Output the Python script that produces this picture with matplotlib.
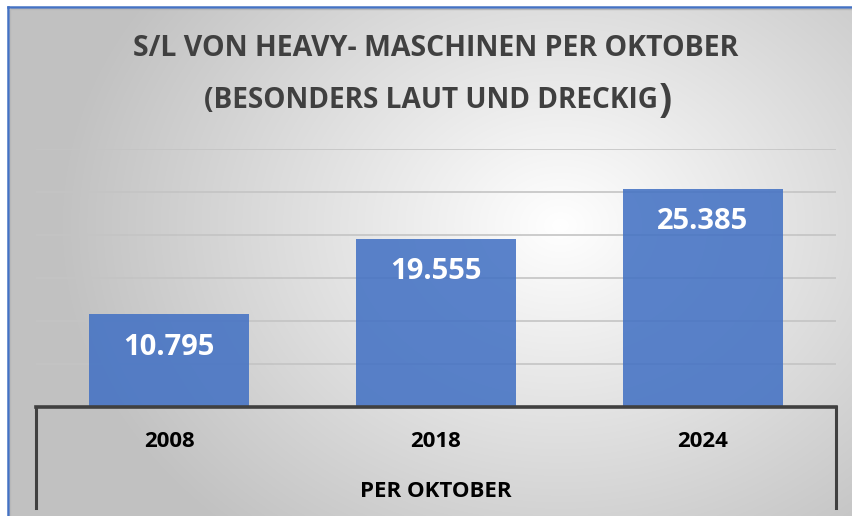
import numpy as np
import matplotlib
matplotlib.use("Agg")
import matplotlib.pyplot as plt
from matplotlib.lines import Line2D

categories = ["2008", "2018", "2024"]
values = [10795, 19555, 25385]
value_labels = ["10.795", "19.555", "25.385"]
title_line1 = "S/L VON HEAVY- MASCHINEN PER OKTOBER"
title_line2 = "(BESONDERS LAUT UND DRECKIG"
title_paren = ")"
x_title = "PER OKTOBER"

W, H = 852, 516
FONT = "Open Sans"
fig = plt.figure(figsize=(W / 100, H / 100), dpi=100)
fig.patch.set_facecolor("white")

# background radial gradient (pixel coordinates)
bg = fig.add_axes([0, 0, 1, 1])
bg.set_xlim(0, W)
bg.set_ylim(H, 0)
bg.axis("off")
yy, xx = np.mgrid[0:H, 0:W]
cx, cy = 560, 225
d = np.sqrt(((xx - cx) / 520.0) ** 2 + ((yy - cy) / 420.0) ** 2)
g = np.clip(1.0 - 0.25 * d, 0.76, 1.0)
img = np.dstack([g, g, g])
img[:7, :, :] = 1.0
img[:, :8, :] = 1.0
bg.imshow(img, extent=(0, W, H, 0), interpolation="bilinear", zorder=0)
bg.add_line(Line2D([8, 8], [7, H], color="#4472C4", lw=1.8, zorder=2))
bg.add_line(Line2D([8, W], [7, 7], color="#4472C4", lw=1.8, zorder=2))
bg.add_line(Line2D([9.5, W], [9, 9], color="#b8b8b8", lw=1.0, zorder=2))
bg.add_line(Line2D([10, 10], [9, H], color="#b8b8b8", lw=1.0, zorder=2))

# lower frame lines
bg.add_line(Line2D([36, 36], [407, 508], color="#404040", lw=2.2, zorder=3))
bg.add_line(Line2D([836, 836], [407, 508], color="#404040", lw=2.2, zorder=3))

# main axes
l, r, t, b = 36, 836, 149, 407
ax = fig.add_axes([l / W, 1 - b / H, (r - l) / W, (b - t) / H])
ax.patch.set_alpha(0)
x = np.arange(len(categories))
ax.set_xlim(-0.5, len(categories) - 0.5)
ax.set_ylim(0, 30000)
ax.set_yticks(np.arange(5000, 30001, 5000))
ax.yaxis.grid(True, color="#c4c4c4", lw=1.2, zorder=0)
ax.set_axisbelow(True)
for s in ["top", "right", "left"]:
    ax.spines[s].set_visible(False)
ax.spines["bottom"].set_color("#404040")
ax.spines["bottom"].set_linewidth(2.6)
ax.tick_params(left=False, labelleft=False, bottom=False)
ax.set_xticks(x)
ax.set_xticklabels(categories, fontsize=16, fontweight="bold", family=FONT, color="black")
ax.tick_params(axis="x", pad=14)

bars = ax.bar(x, values, width=0.6, color="#4472C4", alpha=0.88, zorder=2)
for rect, lab in zip(bars, value_labels):
    ax.annotate(lab, xy=(rect.get_x() + rect.get_width() / 2, rect.get_height()),
                xytext=(0, -33), textcoords="offset pixels", ha="center", va="center",
                fontsize=21, fontweight="bold", family=FONT, color="white", zorder=4)

ax.set_xlabel(x_title, fontsize=16, fontweight="bold", family=FONT, color="black", labelpad=21)

# titles
fig.text(436 / W, 1 - 49 / H, title_line1, ha="center", va="center",
         fontsize=20.5, fontweight="bold", family=FONT, color="#404040")
t2 = fig.text(431 / W, 1 - 101 / H, title_line2, ha="center", va="center",
              fontsize=20.2, fontweight="bold", family=FONT, color="#404040")
fig.canvas.draw()
bb = t2.get_window_extent()
fig.text((bb.x1 + 1) / W, 1 - 101 / H, title_paren, ha="left", va="center",
         fontsize=28, fontweight="bold", family=FONT, color="#404040")

fig.savefig("out.png", dpi=100)
